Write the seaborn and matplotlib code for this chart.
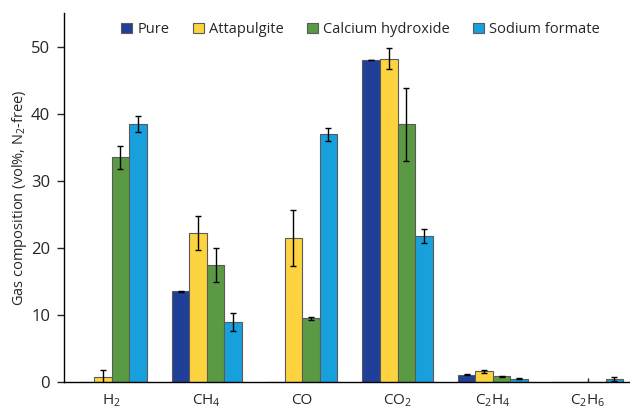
import numpy as np
import pandas as pd
import matplotlib
matplotlib.use("Agg")
import matplotlib.pyplot as plt
import seaborn as sns
from matplotlib.patches import Patch

gases = ["H$_2$", "CH$_4$", "CO", "CO$_2$", "C$_2$H$_4$", "C$_2$H$_6$"]
additives = ["Pure", "Attapulgite", "Calcium hydroxide", "Sodium formate"]

pure = [0.0, 13.5, 0.0, 48.0, 1.05, 0.0]
pure_err = [0.0, 0.05, 0.0, 0.05, 0.05, 0.0]
attapulgite = [0.65, 22.2, 21.4, 48.2, 1.55, 0.0]
attapulgite_err = [1.1, 2.6, 4.2, 1.6, 0.2, 0.0]
calcium_hydroxide = [33.5, 17.4, 9.45, 38.4, 0.8, 0.0]
calcium_hydroxide_err = [1.7, 2.5, 0.25, 5.5, 0.08, 0.0]
sodium_formate = [38.4, 8.9, 36.9, 21.75, 0.45, 0.4]
sodium_formate_err = [1.2, 1.4, 1.0, 1.0, 0.06, 0.3]

colors = ["#1F3F98", "#FDD43F", "#5A9A45", "#18A0DC"]

values = [pure, attapulgite, calcium_hydroxide, sodium_formate]
errors = [pure_err, attapulgite_err, calcium_hydroxide_err, sodium_formate_err]

rows = []
for add, vals in zip(additives, values):
    for g, v in zip(gases, vals):
        rows.append({"gas": g, "additive": add, "value": v})
df = pd.DataFrame(rows)

sns.set_style("white")
plt.rcParams["font.family"] = ["Open Sans", "DejaVu Sans"]
plt.rcParams["mathtext.fontset"] = "custom"
plt.rcParams["mathtext.rm"] = "Open Sans"
plt.rcParams["mathtext.it"] = "Open Sans"
plt.rcParams["mathtext.default"] = "rm"

fig = plt.figure(figsize=(6.30, 4.11), dpi=100)
ax = fig.add_axes([64 / 630, 1 - 381.7 / 411, 1 - 64 / 630, (381.7 - 13.2) / 411])

sns.barplot(data=df, x="gas", y="value", hue="additive", order=gases,
            hue_order=additives, palette=colors, width=0.735, errorbar=None,
            edgecolor="#5a5a5a", linewidth=0.8, saturation=1, ax=ax, legend=False)

for cont, errs in zip(ax.containers, errors):
    for bar, e in zip(cont, errs):
        if e <= 0:
            continue
        xc = bar.get_x() + bar.get_width() / 2
        ax.errorbar(xc, bar.get_height(), yerr=e, fmt="none", ecolor="black",
                    elinewidth=1.0, capsize=2, capthick=1.0, zorder=5)

ax.set_xlim(-0.5, 5.44)
ax.set_ylim(0, 55)
ax.set_yticks([0, 10, 20, 30, 40, 50])
ax.set_xlabel("")
ax.set_ylabel("Gas composition (vol%, N$_2$-free)", fontsize=10.5, labelpad=1)
sns.despine(ax=ax)
for s in ["left", "bottom"]:
    ax.spines[s].set_color("black")
    ax.spines[s].set_linewidth(1.0)
ax.tick_params(axis="y", direction="out", length=5, width=1, labelsize=12, pad=5, left=True)
ax.tick_params(axis="x", direction="in", length=3, width=1, labelsize=11, pad=8, bottom=True)

handles = [Patch(facecolor=c, edgecolor="#5a5a5a", linewidth=0.8) for c in colors]
ax.legend(handles, additives, ncol=4, loc="upper right", bbox_to_anchor=(0.962, 1.0),
          frameon=False, fontsize=10.5, handlelength=0.75, handleheight=0.75,
          handletextpad=0.35, columnspacing=1.6, borderaxespad=0.2)

fig.savefig("out.png", dpi=100)
